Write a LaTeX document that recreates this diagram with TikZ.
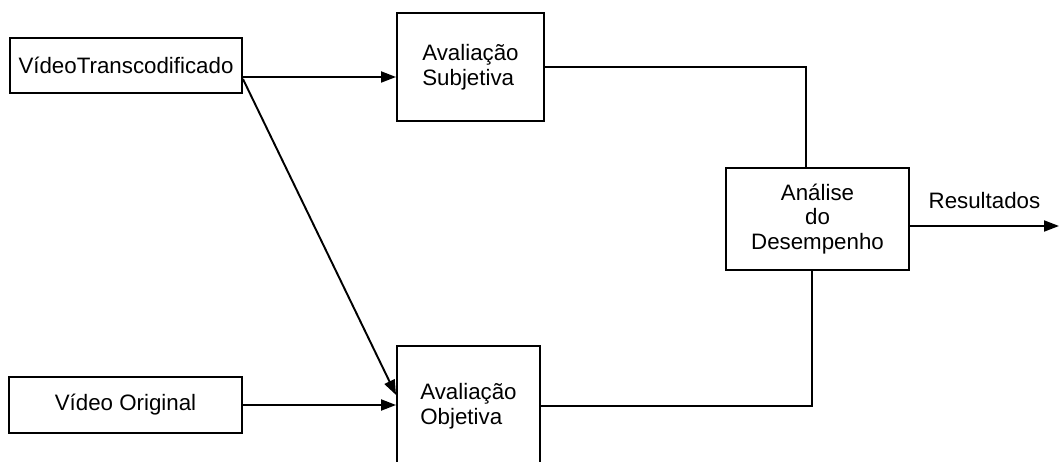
\documentclass[tikz,border=0pt]{standalone}
\usepackage{fontspec}
\setmainfont{Liberation Sans}
\usetikzlibrary{positioning, arrows.meta}

\begin{document}
\begin{tikzpicture}[x=0.02cm, y=-0.02cm,
					->,
					>={Triangle[length=3mm, width=2.2mm]},
					line width=1.1pt,
					font=\fontsize{12.7}{14}\selectfont,
					block/.style={draw, rectangle, inner sep=0pt, align=center}]

	\useasboundingbox (0,0) rectangle (1059,462);

	\node[block, minimum width=4.64cm, minimum height=1.1cm] (vt) at (126,65.5) {VídeoTranscodificado};
	\node[block, minimum width=4.66cm, minimum height=1.12cm] (orig) at (125.5,405) {Vídeo Original};
	\node[block, minimum width=2.94cm, minimum height=2.16cm, align=left] (subj) at (470.5,67) {Avaliação\\Subjetiva};
	\node[block, minimum width=2.86cm, minimum height=2.4cm, align=left] (obj) at (468.5,406) {Avaliação\\Objetiva};
	\node[block, minimum width=3.66cm, minimum height=2.04cm] (ana) at (817.5,219) {Análise\\do\\Desempenho};
	\coordinate (res) at (1059,226);

	\draw ([yshift=-0.23cm]vt.east) -- ([yshift=-0.2cm]subj.west);
	\draw ([yshift=-0.27cm]vt.east) -- ([yshift=0.22cm]obj.west);
	\draw (orig.east) -- (orig.east -| obj.west);

	\draw[-] (subj.east) -| ([xshift=-0.23cm]ana.north);
	\draw[-] (obj.east) -| ([xshift=-0.11cm]ana.south);
	\draw ([yshift=-0.14cm]ana.east) -- node[above=6pt] {Resultados} (res);
\end{tikzpicture}
\end{document}
